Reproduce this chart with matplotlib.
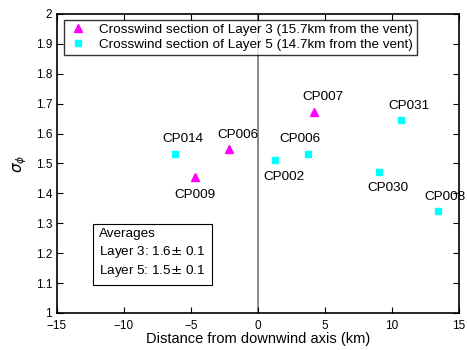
import matplotlib
matplotlib.use('Agg')
import matplotlib.pyplot as plt

plt.rcParams['font.family'] = ['Liberation Sans', 'DejaVu Sans']

# layer 3 (triangles)
x3 = [-4.7, -2.15, 4.2]
y3 = [1.455, 1.55, 1.672]
lab3 = ['CP009', 'CP006', 'CP007']
off3 = [(0, -13), (6, 10), (6, 11)]

# layer 5 (squares)
x5 = [-6.2, 1.3, 3.75, 10.65, 9.05, 13.45]
y5 = [1.532, 1.512, 1.532, 1.646, 1.47, 1.342]
lab5 = ['CP014', 'CP002', 'CP006', 'CP031', 'CP030', 'CP008']
off5 = [(6, 11), (6, -12), (-6, 11), (6, 10), (6, -11), (5, 10)]

fig = plt.figure(figsize=(4.67, 3.5), dpi=100)
ax = fig.add_axes([0.122, 0.106, 0.861, 0.854])

ax.axvline(0, color='#777777', lw=1.2, zorder=1)
ax.plot(x3, y3, '^', color='magenta', ms=6, mec='magenta', ls='none',
        label='Crosswind section of Layer 3 (15.7km from the vent)')
ax.plot(x5, y5, 's', color='cyan', ms=4.5, mec='cyan', ls='none',
        label='Crosswind section of Layer 5 (14.7km from the vent)')

for x, y, t, o in zip(x3, y3, lab3, off3):
    ax.annotate(t, (x, y), xytext=o, textcoords='offset points',
                ha='center', va='center', fontsize=9.7)
for x, y, t, o in zip(x5, y5, lab5, off5):
    ax.annotate(t, (x, y), xytext=o, textcoords='offset points',
                ha='center', va='center', fontsize=9.7)

ax.text(-11.85, 1.285, 'Averages\nLayer 3: 1.6$\\pm$ 0.1\nLayer 5: 1.5$\\pm$ 0.1',
        fontsize=9.7, va='top', ha='left', linespacing=1.35,
        bbox=dict(boxstyle='square,pad=0.45', fc='white', ec='black', lw=0.8))

ax.set_xlim(-15, 15)
ax.set_ylim(1, 2)
ax.set_xticks([-15, -10, -5, 0, 5, 10, 15])
ax.set_xticklabels(['\u221215', '\u221210', '\u22125', '0', '5', '10', '15'])
ax.set_yticks([1, 1.1, 1.2, 1.3, 1.4, 1.5, 1.6, 1.7, 1.8, 1.9, 2])
ax.set_yticklabels(['1', '1.1', '1.2', '1.3', '1.4', '1.5', '1.6', '1.7', '1.8', '1.9', '2'])
ax.tick_params(direction='in', top=True, right=True, labelsize=8.5, length=4)
ax.tick_params(axis='x', pad=5)
for s in ax.spines.values():
    s.set_linewidth(1.2)

ax.set_xlabel('Distance from downwind axis (km)', fontsize=10.5, labelpad=0)
ax.set_ylabel('$\\sigma_\\phi$', fontsize=11, labelpad=5)

leg = ax.legend(loc='upper left', fontsize=9.7, frameon=True, fancybox=False,
                edgecolor='black', handletextpad=0.8, borderpad=0.3,
                labelspacing=0.15, handlelength=1.5, borderaxespad=0.2,
                bbox_to_anchor=(0.01, 0.99))
leg.get_frame().set_linewidth(1.0)

fig.savefig('out.png', dpi=100)
